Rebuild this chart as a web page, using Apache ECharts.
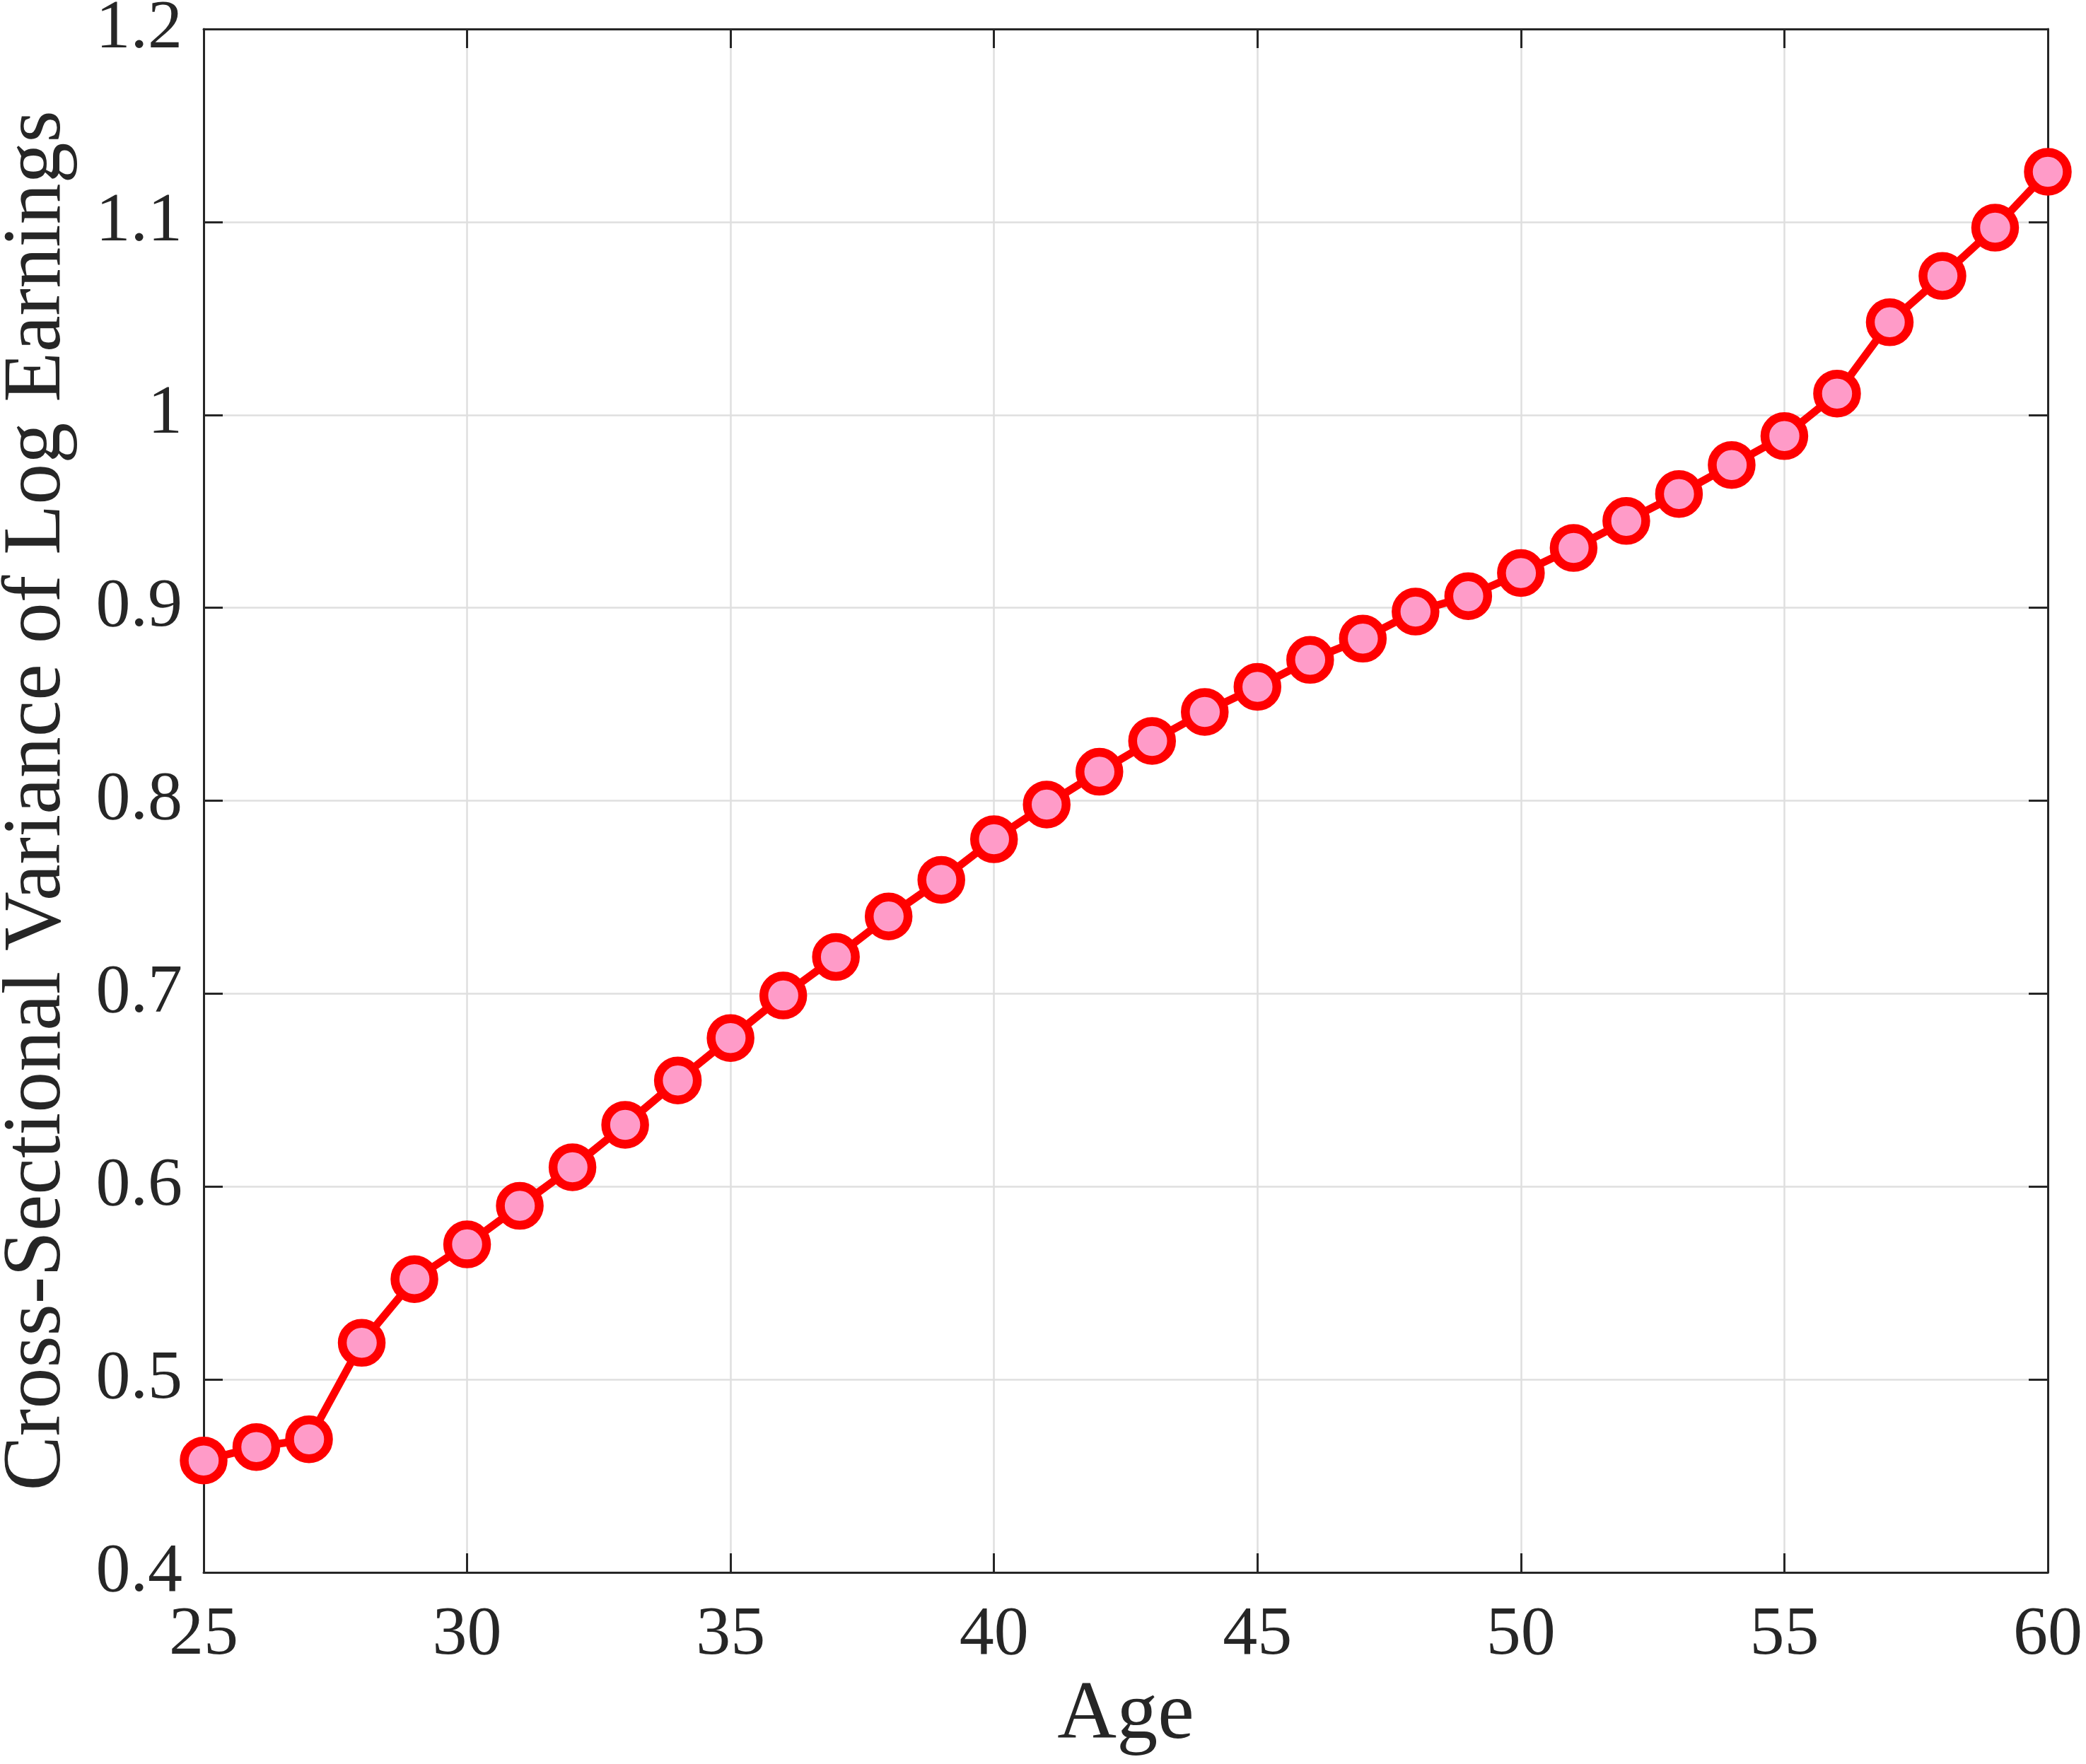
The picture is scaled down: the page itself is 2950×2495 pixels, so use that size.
<!DOCTYPE html>
<html>
<head>
<meta charset="utf-8">
<script src="https://cdn.jsdelivr.net/npm/echarts@6/dist/echarts.min.js"></script>
<style>
  html, body { margin: 0; padding: 0; background: #fff; }
  #chart { width: 2950px; height: 2495px; }
</style>
</head>
<body>
<div id="chart"></div>
<script>
var ages = [25, 26, 27, 28, 29, 30, 31, 32, 33, 34, 35, 36, 37, 38, 39, 40, 41, 42,
            43, 44, 45, 46, 47, 48, 49, 50, 51, 52, 53, 54, 55, 56, 57, 58, 59, 60];
var variance = [0.458, 0.465, 0.469, 0.519, 0.552, 0.570, 0.590, 0.610, 0.632, 0.655,
                0.677, 0.699, 0.719, 0.740, 0.759, 0.780, 0.798, 0.815, 0.831, 0.846,
                0.859, 0.873, 0.884, 0.898, 0.906, 0.918, 0.931, 0.945, 0.959, 0.974,
                0.989, 1.011, 1.048, 1.072, 1.097, 1.126];

var font = 'Liberation Serif';
var ink = '#262626';

var chart = echarts.init(document.getElementById('chart'));

var points = ages.map(function (a, i) { return [a, variance[i]]; });

function axisBase(show) {
    return {
        axisLine: { show: true, onZero: false, lineStyle: { color: ink, width: 3 } },
        axisTick: { show: true, inside: true, length: 27, lineStyle: { color: ink, width: 3 } },
        axisLabel: { show: show, color: ink, fontFamily: font, fontSize: 98 },
        splitLine: { show: show, lineStyle: { color: '#dfdfdf', width: 2.5 } }
    };
}

var option = {
    backgroundColor: '#ffffff',
    animation: false,
    textStyle: { fontFamily: font },
    grid: { left: 288, right: 54, top: 41, bottom: 271, containLabel: false, outerBoundsMode: 'none' },
    xAxis: [
        Object.assign({
            type: 'value', min: 25, max: 60, interval: 5, position: 'bottom',
            name: 'Age', nameLocation: 'middle', nameGap: 146,
            nameTextStyle: { color: ink, fontFamily: font, fontSize: 116 }
        }, axisBase(true), {
            axisLabel: { color: ink, fontFamily: font, fontSize: 98, margin: 40 }
        }),
        Object.assign({ type: 'value', min: 25, max: 60, interval: 5, position: 'top' }, axisBase(false))
    ],
    yAxis: [
        Object.assign({
            type: 'value', min: 0.4, max: 1.2, interval: 0.1, position: 'left',
            name: 'Cross-Sectional Variance of Log Earnings', nameLocation: 'middle', nameGap: 176,
            nameTextStyle: { color: ink, fontFamily: font, fontSize: 116 }
        }, axisBase(true), {
            axisLabel: {
                color: ink, fontFamily: font, fontSize: 98, margin: 30,
                formatter: function (v) { return String(Math.round(v * 10) / 10); }
            }
        }),
        Object.assign({ type: 'value', min: 0.4, max: 1.2, interval: 0.1, position: 'right' }, axisBase(false))
    ],
    series: [{
        type: 'line',
        data: points,
        symbol: 'circle',
        symbolSize: 55,
        clip: false,
        lineStyle: { color: '#ff0000', width: 11 },
        itemStyle: { color: '#ff9bc8', borderColor: '#ff0000', borderWidth: 12.5 },
        z: 5
    }]
};

chart.setOption(option);
</script>
</body>
</html>
